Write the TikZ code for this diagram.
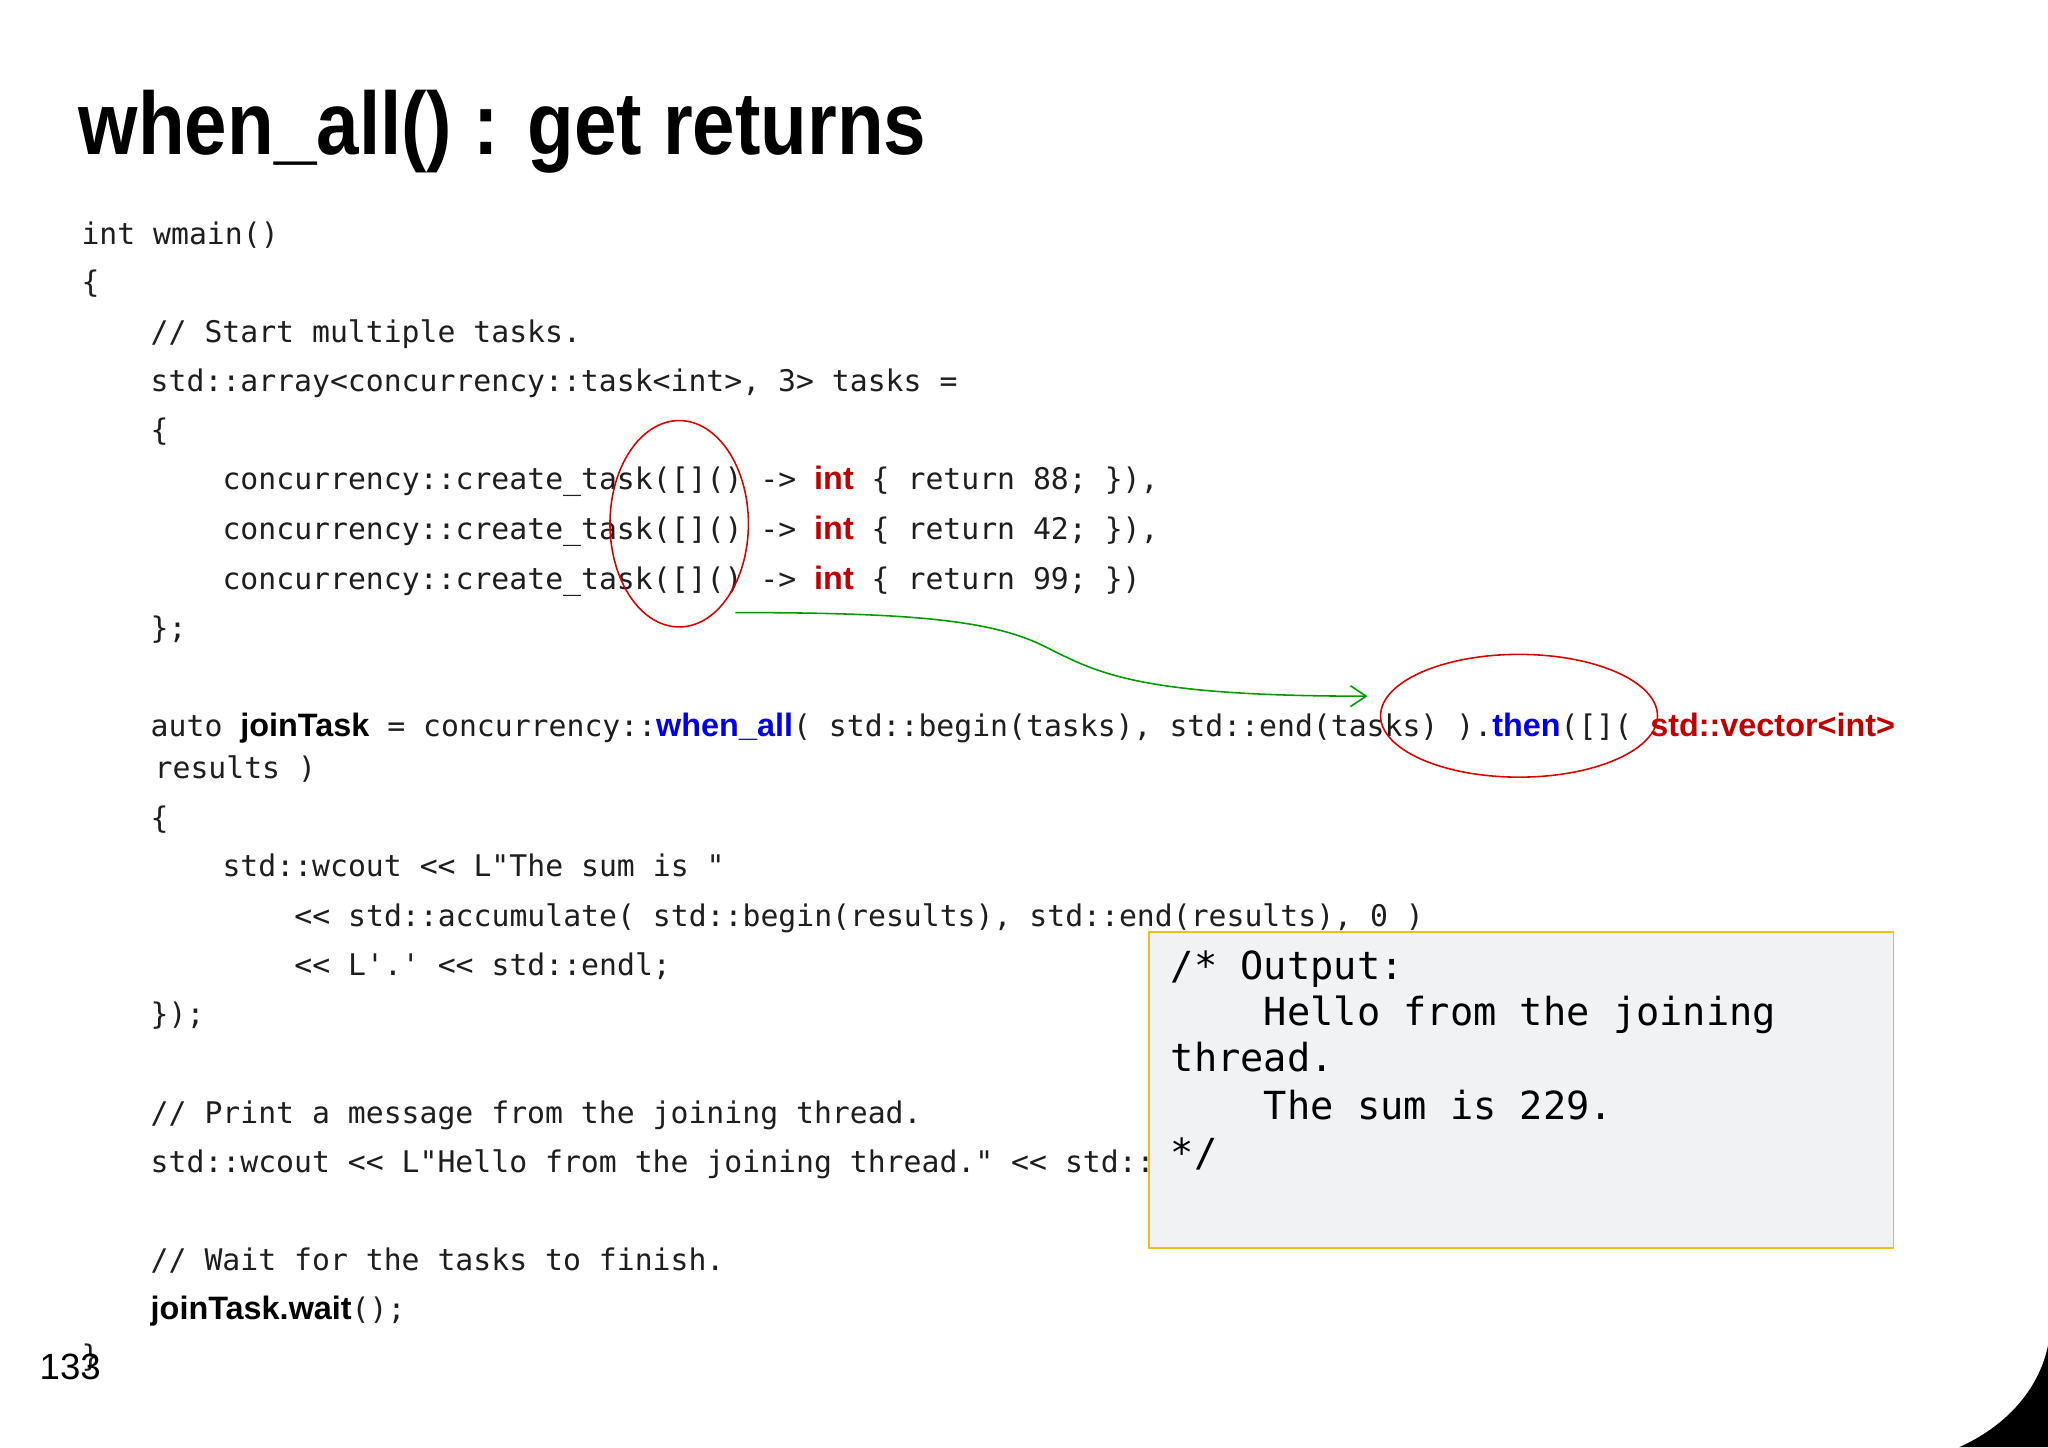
\documentclass[tikz,border=0pt]{standalone}
\usepackage{fontspec}
\setmainfont{Liberation Sans}
\setmonofont{DejaVu Sans Mono}
\newfontfamily\bsans{Liberation Sans}
\usetikzlibrary{arrows.meta}
\definecolor{kwred}{RGB}{192,0,0}
\definecolor{kwblue}{RGB}{0,0,230}
\definecolor{boxfill}{RGB}{240,242,244}
\definecolor{boxline}{RGB}{240,190,30}
\definecolor{codegray}{RGB}{30,30,30}
\newcommand{\cfont}{\fontsize{11.4pt}{13pt}\ttfamily}
\newcommand{\kw}[2]{{\fontsize{12.4pt}{13pt}\bsans\bfseries\color{#1}#2}}
\begin{document}
\begin{tikzpicture}[x=0.5pt,y=-0.5pt,
  code/.style={anchor=base west,inner sep=0,font=\cfont,text=codegray},
  outtxt/.style={anchor=base west,inner sep=0,font=\fontsize{14.8pt}{17pt}\ttfamily},
  ring/.style={draw=red!85!black,line width=0.6pt}]
\useasboundingbox (0,0) rectangle (1568,1108);
\fill[white] (0,0) rectangle (1568,1108);
\node[anchor=base west,inner sep=0,font=\fontsize{34pt}{40pt}\bsans\bfseries] (title) at (60,118) {\scalebox{0.86}[1]{when\_all() : get returns}};
\node[code] (l1) at (62,187) {int wmain()};
\node[code] (l2) at (62,224) {\{};
\node[code] (l3) at (115,262) {// Start multiple tasks.};
\node[code] (l4) at (115,300) {std::array<concurrency::task<int>, 3> tasks =};
\node[code] (l5) at (115,337) {\{};
\node[code] (l6) at (170,375) {concurrency::create\_task([]() -> \kw{kwred}{int} \{ return 88; \}),};
\node[code] (l7) at (170,413) {concurrency::create\_task([]() -> \kw{kwred}{int} \{ return 42; \}),};
\node[code] (l8) at (170,451) {concurrency::create\_task([]() -> \kw{kwred}{int} \{ return 99; \})};
\node[code] (l9) at (115,489) {\};};
\node[code] (l10) at (115,564) {auto \kw{black}{joinTask} = concurrency::\kw{kwblue}{when\_all}( std::begin(tasks), std::end(tasks) ).\kw{kwblue}{then}([]( \kw{kwred}{std::vector<int>}};
\node[code] (l11) at (118,596) {results )};
\node[code] (l12) at (115,634) {\{};
\node[code] (l13) at (170,671) {std::wcout << L"The sum is "};
\node[code] (l14) at (225,709) {<< std::accumulate( std::begin(results), std::end(results), 0 )};
\node[code] (l15) at (225,747) {<< L'.' << std::endl;};
\node[code] (l16) at (115,784) {\});};
\node[code] (l17) at (115,860) {// Print a message from the joining thread.};
\node[code] (l18) at (115,898) {std::wcout << L"Hello from the joining thread." << std::endl;};
\node[code] (l19) at (115,973) {// Wait for the tasks to finish.};
\node[code] (l20) at (115,1010) {\kw{black}{joinTask.wait}();};
\node[code] (l21) at (62,1046) {\}};
\node[anchor=base west,inner sep=0,font=\fontsize{14pt}{16pt}\bsans] (pg) at (30,1056) {133};
% output box
\node[draw=boxline,fill=boxfill,line width=0.7pt,minimum width=285pt,minimum height=121pt,anchor=north west,inner sep=0] (box) at (879,713) {};
\node[outtxt] (o1) at (896,750) {/* Output:};
\node[outtxt] (o2) at (896,785) {\phantom{xxxx}Hello from the joining};
\node[outtxt] (o3) at (896,820) {thread.};
\node[outtxt] (o4) at (896,857) {\phantom{xxxx}The sum is 229.};
\node[outtxt] (o5) at (896,893) {*/};
% ellipses
\draw[ring] (520,401) ellipse [x radius=26.5pt, y radius=39.5pt];
\draw[ring] (1163,548) ellipse [x radius=53pt, y radius=23.5pt];
% arrow
\coordinate (aS) at (563,469);
\coordinate (aE) at (1047,533);
\draw[color=green!60!black,line width=0.6pt,-{Straight Barb[length=6pt,width=8pt]}] (aS) .. controls (700,469) and (760,475) .. (800,495) .. controls (840,515) and (870,533) .. (aE);
% corner
\fill[black] (1500,1108) .. controls (1540,1090) and (1562,1060) .. (1568,1030) -- (1568,1108) -- cycle;
\end{tikzpicture}
\end{document}
